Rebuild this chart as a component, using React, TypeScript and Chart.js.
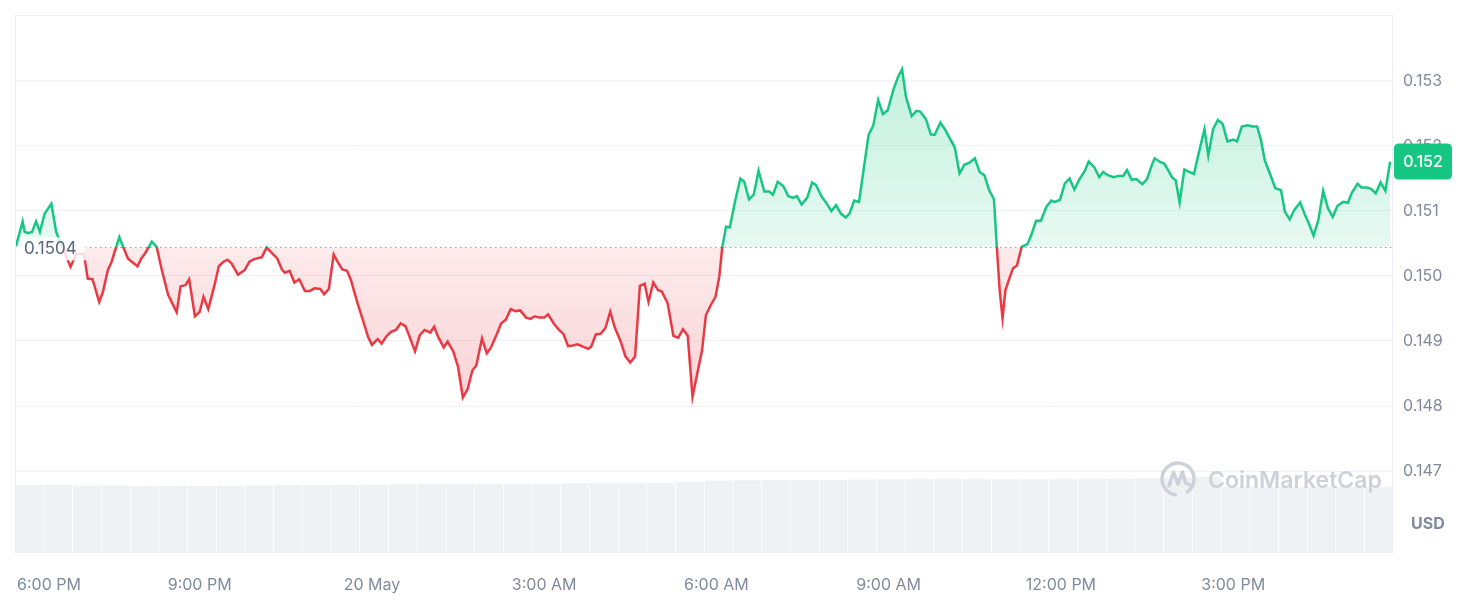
import { useEffect, useRef } from "react";
import { Chart, registerables } from "chart.js";

Chart.register(...registerables);

// minutes since 19 May 00:00
const TIMES = [
  1068, 1075, 1077, 1081, 1085, 1089, 1093, 1098, 1105, 1110, 1125, 1131, 1139, 1143, 1148, 1155, 1159, 1164, 1168, 1176,
  1180, 1185, 1189, 1195, 1199, 1203, 1210, 1215, 1220, 1227, 1236, 1240, 1245, 1249, 1255, 1260, 1264, 1269, 1276, 1280,
  1285, 1289, 1293, 1300, 1307, 1312, 1317, 1325, 1330, 1335, 1341, 1346, 1349, 1354, 1359, 1364, 1370, 1375, 1380, 1386,
  1390, 1395, 1400, 1404, 1409, 1414, 1418, 1425, 1431, 1436, 1440, 1446, 1450, 1455, 1460, 1465, 1470, 1475, 1480, 1485,
  1490, 1495, 1501, 1505, 1509, 1515, 1519, 1525, 1530, 1535, 1540, 1545, 1549, 1555, 1560, 1564, 1570, 1575, 1580, 1585,
  1590, 1595, 1601, 1606, 1610, 1615, 1620, 1624, 1630, 1635, 1640, 1645, 1650, 1655, 1661, 1666, 1669, 1674, 1679, 1684,
  1689, 1694, 1700, 1705, 1710, 1715, 1720, 1725, 1729, 1734, 1739, 1743, 1749, 1755, 1760, 1765, 1770, 1775, 1780, 1785,
  1789, 1794, 1799, 1803, 1806, 1810, 1814, 1819, 1825, 1829, 1834, 1839, 1844, 1850, 1855, 1859, 1864, 1870, 1875, 1880,
  1884, 1889, 1895, 1900, 1904, 1910, 1915, 1920, 1925, 1930, 1935, 1939, 1944, 1949, 1954, 1959, 1964, 1969, 1974, 1979,
  1985, 1990, 1994, 1998, 2004, 2009, 2013, 2019, 2024, 2028, 2034, 2039, 2043, 2049, 2054, 2059, 2064, 2070, 2075, 2080,
  2085, 2090, 2093, 2096, 2099, 2102, 2106, 2110, 2114, 2119, 2125, 2129, 2134, 2139, 2145, 2150, 2153, 2159, 2164, 2169,
  2174, 2179, 2185, 2189, 2195, 2200, 2204, 2209, 2215, 2220, 2225, 2229, 2234, 2239, 2245, 2250, 2255, 2258, 2264, 2268,
  2272, 2276, 2280, 2284, 2289, 2294, 2299, 2304, 2310, 2314, 2319, 2324, 2329, 2334, 2340, 2344, 2349, 2355, 2360, 2365,
  2369, 2373, 2379, 2384, 2390, 2394, 2399, 2404, 2410, 2415, 2419, 2424, 2429, 2434, 2439, 2444, 2449, 2455, 2460, 2464,
  2470, 2474, 2480, 2484, 2489, 2494, 2499, 2504,
];

const PRICES = [
  0.15046, 0.15084, 0.15068, 0.15066, 0.15068, 0.15084, 0.15068, 0.15096, 0.15111, 0.15068, 0.15014, 0.15034, 0.15034, 0.14996, 0.14995, 0.1496, 0.14976, 0.15009, 0.15022, 0.1506,
  0.15045, 0.15027, 0.15022, 0.15015, 0.15027, 0.15035, 0.15053, 0.15045, 0.15012, 0.14971, 0.14944, 0.14984, 0.14986, 0.14995, 0.14938, 0.14945, 0.14968, 0.14949, 0.14989, 0.15015,
  0.15022, 0.15025, 0.1502, 0.15002, 0.15009, 0.15022, 0.15026, 0.15029, 0.15044, 0.15036, 0.15027, 0.1501, 0.15005, 0.15008, 0.1499, 0.14995, 0.14977, 0.14977, 0.14981, 0.1498,
  0.14972, 0.1498, 0.15033, 0.15022, 0.1501, 0.15008, 0.14994, 0.14958, 0.1493, 0.14906, 0.14894, 0.14903, 0.14896, 0.14907, 0.14914, 0.14917, 0.14927, 0.14923, 0.14904, 0.14884,
  0.14909, 0.14917, 0.14913, 0.14922, 0.14907, 0.1489, 0.14899, 0.14884, 0.1486, 0.14813, 0.14826, 0.14855, 0.14862, 0.14904, 0.14881, 0.14889, 0.14909, 0.14927, 0.14933, 0.14949,
  0.14946, 0.14947, 0.14936, 0.14934, 0.14938, 0.14936, 0.14936, 0.14941, 0.14927, 0.14918, 0.14911, 0.14892, 0.14893, 0.14895, 0.14891, 0.14888, 0.14891, 0.1491, 0.14911, 0.1492,
  0.14945, 0.1492, 0.14899, 0.14876, 0.14867, 0.14876, 0.14985, 0.14988, 0.1496, 0.1499, 0.14978, 0.14976, 0.14958, 0.14908, 0.14905, 0.14918, 0.14908, 0.14814, 0.1485, 0.14886,
  0.1494, 0.14955, 0.14968, 0.14999, 0.15043, 0.15076, 0.15075, 0.15112, 0.1515, 0.15145, 0.15118, 0.15125, 0.15162, 0.1513, 0.1513, 0.15125, 0.15145, 0.15138, 0.15123, 0.1512,
  0.15123, 0.1511, 0.15121, 0.15144, 0.1514, 0.15122, 0.15112, 0.151, 0.15109, 0.15096, 0.1509, 0.15096, 0.15116, 0.15114, 0.15166, 0.15217, 0.15232, 0.15271, 0.15249, 0.15255,
  0.15287, 0.15307, 0.15318, 0.15276, 0.15246, 0.15254, 0.15253, 0.15241, 0.15218, 0.15217, 0.15236, 0.15225, 0.15214, 0.15198, 0.15158, 0.15171, 0.15174, 0.15181, 0.1516, 0.15155,
  0.15132, 0.15118, 0.15045, 0.14978, 0.14935, 0.14978, 0.14996, 0.15012, 0.15016, 0.15045, 0.15049, 0.15063, 0.15085, 0.15085, 0.15107, 0.15116, 0.15114, 0.15117, 0.15142, 0.1515,
  0.15133, 0.15148, 0.15162, 0.15176, 0.15167, 0.15152, 0.1516, 0.15155, 0.15152, 0.15154, 0.15154, 0.15163, 0.15148, 0.15149, 0.15141, 0.15149, 0.15171, 0.15181, 0.15175, 0.15173,
  0.15163, 0.15152, 0.15147, 0.15113, 0.15164, 0.1516, 0.15157, 0.15189, 0.15226, 0.15185, 0.15226, 0.1524, 0.15234, 0.15207, 0.1521, 0.15207, 0.1523, 0.15232, 0.1523, 0.1523,
  0.15209, 0.15178, 0.15155, 0.15135, 0.15132, 0.15099, 0.15087, 0.15102, 0.15113, 0.15094, 0.15081, 0.15062, 0.15086, 0.15131, 0.15104, 0.15091, 0.15108, 0.15114, 0.15113, 0.15128,
  0.15142, 0.15136, 0.15136, 0.15134, 0.15127, 0.15144, 0.15131, 0.15176,
];

const VOL_TIMES = [
  1082, 1112, 1142, 1172, 1202, 1232, 1262, 1292, 1322, 1352, 1382, 1412, 1442, 1472, 1502, 1532, 1562, 1592, 1622, 1652,
  1682, 1712, 1742, 1772, 1802, 1832, 1862, 1892, 1922, 1952, 1982, 2012, 2042, 2072, 2102, 2132, 2162, 2192, 2222, 2252,
  2282, 2312, 2342, 2372, 2402, 2432, 2462, 2492,
];
const VOLUMES = [
  99.5, 99.8, 99.2, 99.0, 98.8, 98.6, 98.5, 98.8, 99.0, 99.3, 99.5, 100.0, 100.5, 100.8, 101.2, 101.5, 101.8, 102.0, 102.2, 102.5,
  102.8, 103.0, 103.5, 104.5, 106.5, 107.0, 107.3, 107.5, 107.8, 108.0, 108.3, 108.6, 108.8, 108.8, 108.5, 108.2, 108.6, 109.0, 109.3, 109.8,
  111.0, 111.7, 97.0, 96.8, 96.8, 96.6, 96.8, 96.8,
];

const BASELINE = 0.15044;
const Y_TICKS = [0.147, 0.148, 0.149, 0.15, 0.151, 0.152, 0.153];
const X_TICK_MINUTES = [1080, 1260, 1440, 1620, 1800, 1980, 2160, 2340];
const X_TICK_LABELS = ["6:00 PM", "9:00 PM", "20 May", "3:00 AM", "6:00 AM", "9:00 AM", "12:00 PM", "3:00 PM"];

const GREEN = "#16c784";
const RED = "#ea3943";
const FONT = "Inter, 'Noto Sans', sans-serif";
const AXIS_COLOR = "#808a9d";

function roundRect(ctx: CanvasRenderingContext2D, x: number, y: number, w: number, h: number, r: number) {
  ctx.beginPath();
  ctx.moveTo(x + r, y);
  ctx.lineTo(x + w - r, y);
  ctx.quadraticCurveTo(x + w, y, x + w, y + r);
  ctx.lineTo(x + w, y + h - r);
  ctx.quadraticCurveTo(x + w, y + h, x + w - r, y + h);
  ctx.lineTo(x + r, y + h);
  ctx.quadraticCurveTo(x, y + h, x, y + h - r);
  ctx.lineTo(x, y + r);
  ctx.quadraticCurveTo(x, y, x + r, y);
  ctx.closePath();
}

const zeroPad = (s: any) => {
  s.paddingTop = 0;
  s.paddingBottom = 0;
  s.paddingLeft = 0;
  s.paddingRight = 0;
};

const overlayPlugin = {
  id: "overlay",
  beforeDatasetsDraw(chart: any) {
    const { ctx, chartArea: a } = chart;
    const yb = Math.round(chart.scales.y.getPixelForValue(BASELINE)) + 0.5;
    ctx.save();
    ctx.strokeStyle = "#9aa3b5";
    ctx.lineWidth = 1;
    ctx.setLineDash([1.5, 3.5]);
    ctx.beginPath();
    ctx.moveTo(a.left + 70, yb);
    ctx.lineTo(a.right, yb);
    ctx.stroke();
    ctx.restore();
  },
  afterDatasetsDraw(chart: any) {
    const { ctx, chartArea: a } = chart;
    const yb = chart.scales.y.getPixelForValue(BASELINE);
    ctx.save();
    // baseline label
    ctx.fillStyle = "rgba(255,255,255,0.82)";
    ctx.fillRect(a.left + 5, yb - 10, 66, 23);
    ctx.fillStyle = "#58667e";
    ctx.font = `17px ${FONT}`;
    ctx.textBaseline = "middle";
    ctx.textAlign = "left";
    ctx.fillText(BASELINE.toFixed(4), a.left + 9, yb + 2);

    // watermark
    const cx = a.right - 215;
    const cy = a.bottom - 73;
    ctx.strokeStyle = "#cdd1d9";
    ctx.lineWidth = 3.5;
    ctx.lineCap = "round";
    ctx.lineJoin = "round";
    ctx.beginPath();
    ctx.arc(cx, cy, 16, Math.PI * 0.55, Math.PI * 2.3);
    ctx.stroke();
    ctx.beginPath();
    ctx.moveTo(cx - 9, cy + 7);
    ctx.lineTo(cx - 4.5, cy - 7);
    ctx.lineTo(cx, cy + 5);
    ctx.lineTo(cx + 4.5, cy - 7);
    ctx.lineTo(cx + 7.5, cy + 4);
    ctx.lineTo(cx + 14, cy + 7);
    ctx.stroke();
    ctx.fillStyle = "#cdd1d9";
    ctx.font = `600 23px ${FONT}`;
    ctx.textBaseline = "middle";
    ctx.fillText("CoinMarketCap", cx + 30, cy + 2);
    ctx.restore();
  },
  afterDraw(chart: any) {
    const { ctx, chartArea: a } = chart;
    ctx.save();
    // frame
    ctx.strokeStyle = "#eceff3";
    ctx.lineWidth = 1;
    ctx.strokeRect(a.left + 0.5, a.top + 0.5, a.right - a.left - 1, a.bottom - a.top);

    // x axis labels from the x scale, kept inside the plot edges
    const xs = chart.scales.x;
    ctx.fillStyle = AXIS_COLOR;
    ctx.font = `16px ${FONT}`;
    ctx.textBaseline = "middle";
    ctx.textAlign = "left";
    xs.ticks.forEach((t: any, i: number) => {
      const label = X_TICK_LABELS[X_TICK_MINUTES.indexOf(t.value)] ?? "";
      const w = ctx.measureText(label).width;
      const px = xs.getPixelForValue(t.value);
      let left = px - w / 2;
      if (left < a.left + 2) left = a.left + 2;
      if (left + w > a.right - 2) left = a.right - 2 - w;
      ctx.fillText(label, left, a.bottom + 33);
    });

    // last price badge
    const last = PRICES[PRICES.length - 1];
    const yl = chart.scales.y.getPixelForValue(last);
    ctx.fillStyle = GREEN;
    roundRect(ctx, a.right + 1, yl - 18, 58, 36, 5);
    ctx.fill();
    ctx.fillStyle = "#ffffff";
    ctx.font = `500 16px ${FONT}`;
    ctx.textAlign = "center";
    ctx.textBaseline = "middle";
    ctx.fillText(last.toFixed(3), a.right + 30, yl + 1);
    // USD label
    ctx.fillStyle = AXIS_COLOR;
    ctx.font = `700 16px ${FONT}`;
    ctx.textAlign = "left";
    ctx.fillText("USD", a.right + 18, a.bottom - 28);
    ctx.restore();
  },
};

export default function App() {
  const ref = useRef<HTMLCanvasElement | null>(null);

  useEffect(() => {
    if (!ref.current) return;
    const chart = new Chart(ref.current, {
      type: "line",
      data: {
        datasets: [
          {
            type: "line",
            data: TIMES.map((t, i) => ({ x: t, y: PRICES[i] })),
            yAxisID: "y",
            borderColor: GREEN,
            borderWidth: 2.5,
            pointRadius: 0,
            tension: 0,
            fill: { target: { value: BASELINE }, above: "rgba(22,199,132,0.15)", below: "rgba(234,57,67,0.12)" },
            order: 1,
          } as any,
          {
            type: "bar",
            data: VOL_TIMES.map((t, i) => ({ x: t, y: VOLUMES[i] })),
            yAxisID: "yv",
            backgroundColor: "#eff1f4",
            borderColor: "rgba(255,255,255,0.35)",
            borderWidth: { left: 1, right: 0, top: 0, bottom: 0 },
            borderSkipped: false,
            barPercentage: 1,
            categoryPercentage: 1,
            order: 2,
          } as any,
        ],
      },
      options: {
        animation: false,
        responsive: false,
        maintainAspectRatio: false,
        layout: { padding: { left: 15, top: 15, right: 0, bottom: 0 } },
        plugins: { legend: { display: false }, tooltip: { enabled: false } },
        scales: {
          x: {
            type: "linear",
            min: 1067,
            max: 2507,
            offset: false,
            grid: { display: false, drawTicks: false },
            border: { display: false },
            afterBuildTicks: (s: any) => {
              s.ticks = X_TICK_MINUTES.map((v) => ({ value: v }));
            },
            afterFit: (s: any) => {
              s.height = 56;
              zeroPad(s);
            },
            ticks: {
              display: false,
              autoSkip: false,
              maxRotation: 0,
            },
          },
          y: {
            position: "right",
            min: 0.145754,
            max: 0.154015,
            grid: { color: "#eff2f5", drawTicks: false },
            border: { display: false },
            afterBuildTicks: (s: any) => {
              s.ticks = Y_TICKS.map((v) => ({ value: v }));
            },
            afterFit: (s: any) => {
              s.width = 77;
              zeroPad(s);
            },
            ticks: {
              padding: 10,
              color: AXIS_COLOR,
              font: { family: FONT, size: 16 },
              callback: (v: any) => Number(v).toFixed(3),
            },
          },
          yv: { display: false, min: 0, max: 800 },
        },
      } as any,
      plugins: [overlayPlugin],
    });

    // gradients based on the baseline position
    const { ctx, chartArea: a } = chart;
    const ys = chart.scales.y;
    const yb = ys.getPixelForValue(BASELINE);
    const f = (yb - a.top) / (a.bottom - a.top);
    const stroke = ctx.createLinearGradient(0, a.top, 0, a.bottom);
    stroke.addColorStop(0, GREEN);
    stroke.addColorStop(f, GREEN);
    stroke.addColorStop(f, RED);
    stroke.addColorStop(1, RED);
    const gUp = ctx.createLinearGradient(0, ys.getPixelForValue(0.1532), 0, yb);
    gUp.addColorStop(0, "rgba(22,199,132,0.26)");
    gUp.addColorStop(1, "rgba(22,199,132,0.10)");
    const gDown = ctx.createLinearGradient(0, yb, 0, ys.getPixelForValue(0.1481));
    gDown.addColorStop(0, "rgba(234,57,67,0.10)");
    gDown.addColorStop(1, "rgba(234,57,67,0.22)");
    const ds: any = chart.data.datasets[0];
    ds.borderColor = stroke;
    ds.fill = { target: { value: BASELINE }, above: gUp, below: gDown };
    chart.update("none");

    return () => chart.destroy();
  }, []);

  return (
    <div style={{ position: "absolute", left: 0, top: 0, width: 1470, height: 608, background: "#ffffff" }}>
      <canvas ref={ref} width={1470} height={608} style={{ display: "block" }} />
    </div>
  );
}
